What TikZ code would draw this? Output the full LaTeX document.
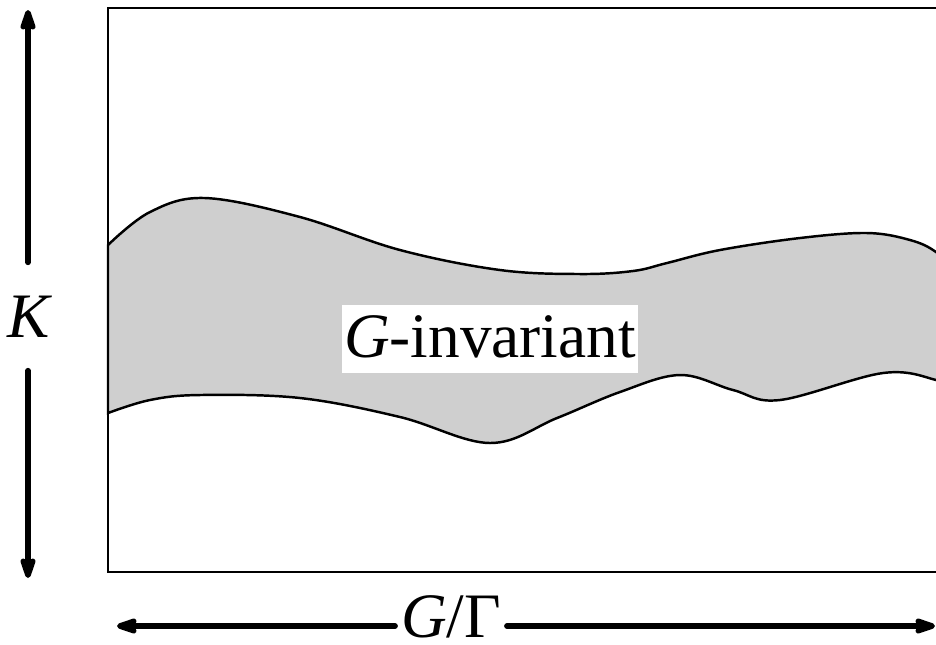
\documentclass[tikz,border=0pt]{standalone}
\usepackage{fontspec}
\setmainfont{Liberation Serif}
\usepackage{tikz}
\usetikzlibrary{
  arrows.meta,
  positioning
}
\definecolor{bandgray}{RGB}{207,207,207}

\begin{document}
\begin{tikzpicture}[x=0.01cm, y=-0.01cm, every node/.style={font=\fontsize{18}{20}\selectfont},
    arr/.style={line width=1.6pt, line cap=round, -{Stealth[length=9pt, width=6pt, inset=2.8pt, round]}},
    frame/.style={line width=0.7pt},
    band/.style={line width=0.7pt, fill=bandgray}]
            \useasboundingbox (0,0) rectangle (936,644);
            \clip (0,0) rectangle (936,644);

            % Band
            \filldraw[band] plot[smooth, tension=0.6] coordinates {(108,245) (150,212) (205,198) (300,217) (400,250) (500,270) (580,274) (633,271) (667,263) (720,250) (800,238) (867,233) (910,240) (936,252) (960,275)}
              -- plot[smooth, tension=0.6] coordinates {(960,392) (936,380) (883,373) (780,400) (733,390) (680,375) (620,392) (557,418) (490,443) (400,417) (300,398) (200,395) (150,400) (108,413)} -- cycle;

            % Frame
            \draw[frame] (108,8) rectangle (980,572);

            % Label
            \node[fill=white, inner xsep=0.6pt, inner ysep=0pt, text height=15pt, text depth=4.3pt] (ginv) at (490,339) {\textit{G}-invariant};

            % Axes
            \node[inner sep=0pt, minimum height=30.4pt] (klab) at (30,316.5) {\textit{K}};
            \coordinate (ktop) at (28,10);
            \coordinate (kbot) at (28,578);
            \draw[arr] (klab.north -| ktop) -- (ktop);
            \draw[arr] (klab.south -| kbot) -- (kbot);

            \node[inner xsep=1.5pt, inner ysep=0pt, text height=12.8pt, text depth=6pt] (quot) at (451,626) {\textit{G}/Γ};
            \coordinate (qleft) at (117,626);
            \coordinate (qright) at (935,626);
            \draw[arr] (quot) -- (qleft);
            \draw[arr] (quot) -- (qright);
        \end{tikzpicture}
\end{document}
